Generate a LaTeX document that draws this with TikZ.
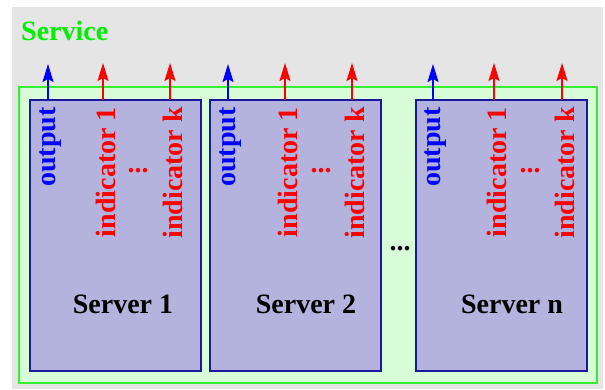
\documentclass[tikz,border=0pt]{standalone}
\usepackage{fontspec}
\setmainfont{Liberation Serif}
\usetikzlibrary{arrows.meta}
\definecolor{bggray}{HTML}{E5E5E5}
\definecolor{svcfill}{HTML}{D8FCD8}
\definecolor{svcline}{HTML}{33EE33}
\definecolor{svctext}{HTML}{00EE00}
\definecolor{srvfill}{HTML}{B3B3DD}
\definecolor{srvline}{HTML}{1A1A99}
\begin{document}
\begin{tikzpicture}[x=1pt,y=-1pt,
  lbl/.style={font=\fontsize{28}{30}\selectfont\bfseries, inner sep=0pt},
  port/.style={lbl, rotate=90, anchor=east},
  outlbl/.style={port, text=blue},
  indlbl/.style={port, text=red},
  servicebox/.style={draw=svcline, fill=svcfill, line width=1.3pt,
    minimum width=578pt, minimum height=296pt, inner sep=0pt},
  serverbox/.style={draw=srvline, fill=srvfill, line width=1.2pt,
    minimum width=171pt, minimum height=271pt, inner sep=0pt},
  sig/.style={line width=1.6pt, -{Stealth[length=18pt,width=11pt,inset=3pt]}},
  outsig/.style={sig, draw=blue, fill=blue},
  indsig/.style={sig, draw=red, fill=red}]
\useasboundingbox (0,0) rectangle (605,389);
\fill[bggray] (12,7) rectangle (603,389);

% service frame and its title
\node[servicebox] (svc) at (308,235) {};
\node[lbl, text=svctext, anchor=base west] (title) at (21,40) {Service};

% the servers
\node[serverbox] (s1) at (115.5,235.5) {};
\node[serverbox] (s2) at (295.5,235.5) {};
\node[serverbox] (s3) at (501.5,235.5) {};

\node[lbl] (n1) at (123,304) {Server 1};
\node[lbl] (n2) at (306,304) {Server 2};
\node[lbl] (n3) at (512,304) {Server n};

% outputs and indicators of each server
\foreach \s/\o/\a/\k in {s1/48/103/170, s2/228/285/352, s3/433/494/562} {
  \coordinate (\s-ob) at (\o,100);
  \coordinate (\s-ot) at (\o,64);
  \coordinate (\s-ab) at (\a,100);
  \coordinate (\s-at) at (\a,63);
  \coordinate (\s-kb) at (\k,100);
  \coordinate (\s-kt) at (\k,63);
  \draw[outsig] (\s-ob) -- (\s-ot);
  \draw[indsig] (\s-ab) -- (\s-at);
  \draw[indsig] (\s-kb) -- (\s-kt);
  \node[outlbl] (\s-out) at (\o+2.5,107) {output};
  \node[indlbl] (\s-ind1) at (\a+2.5,107) {indicator 1};
  \node[indlbl] (\s-indk) at (\k+2.5,107) {indicator k};
}

\node[lbl, text=red, anchor=base] (d1) at (138,172) {...};
\node[lbl, text=red, anchor=base] (d2) at (321,172) {...};
\node[lbl, text=red, anchor=base] (d3) at (530,172) {...};
\node[lbl, anchor=base] (dots) at (400,250) {...};
\end{tikzpicture}
\end{document}
